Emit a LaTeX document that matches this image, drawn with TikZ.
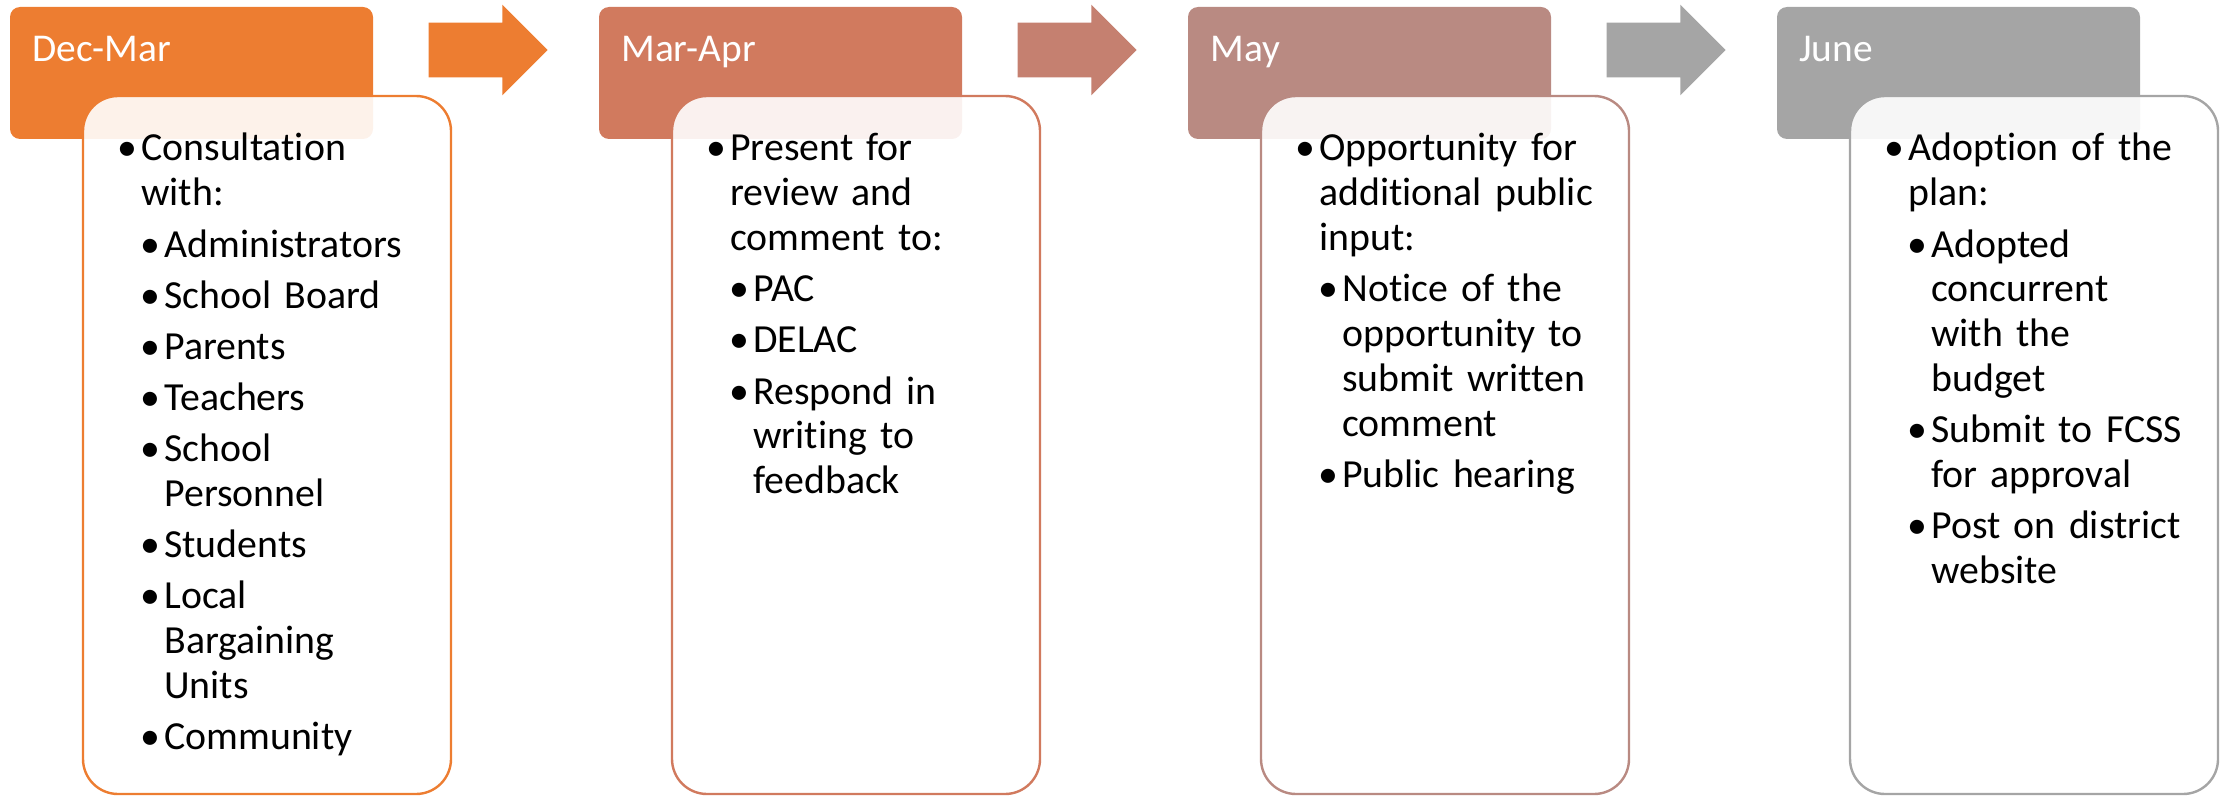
\documentclass[tikz,border=0pt]{standalone}
\usepackage{fontspec}
\setmainfont{Carlito}[Ligatures=NoCommon]
\usetikzlibrary{shapes.arrows}

\definecolor{stepa}{HTML}{ED7D31}
\definecolor{stepb}{HTML}{D17A5E}
\definecolor{stepc}{HTML}{B98A82}
\definecolor{stepd}{HTML}{A5A5A5}
\definecolor{arrb}{HTML}{C58070}

\newcommand{\itemone}[1]{\noindent\hangindent=12pt\hangafter=1\makebox[12pt][l]{\textbullet}#1\par}
\newcommand{\itemtwo}[1]{\noindent\hangindent=23.5pt\hangafter=1\hspace*{11.5pt}\makebox[12pt][l]{\textbullet}#1\par}

\begin{document}
\begin{tikzpicture}[x=0.5pt,y=-0.5pt]
    \tikzstyle{every node} = [inner sep = 0pt];
    \tikzstyle{head} = [rectangle, rounded corners = 5pt, minimum width = 181.5pt, minimum height = 66pt];
    \tikzstyle{body} = [rectangle, rounded corners = 17.5pt, fill = white, fill opacity = 0.9, line width = 1.2pt, minimum width = 184pt, minimum height = 349pt];
    \tikzstyle{blk} = [single arrow, inner xsep = 0pt, inner ysep = 13.5pt, single arrow head extend = 9pt, single arrow tip angle = 90, single arrow head indent = 0pt, minimum width = 45pt, minimum height = 59.5pt];
    \tikzstyle{ttl} = [anchor = base west, text = white, font = \fontsize{19.7}{22.3}\selectfont];
    \tikzstyle{txt} = [anchor = base west, text width = 170pt, font = \fontsize{19.9}{22.4}\selectfont];
    \useasboundingbox (0,0) rectangle (2221,797);
    % period headers
    \node[head, fill = stepa] (hd1) at (191.5,73) {};
    \node[head, fill = stepb] (hd2) at (780.5,73) {};
    \node[head, fill = stepc] (hd3) at (1369.5,73) {};
    \node[head, fill = stepd] (hd4) at (1958.5,73) {};
    \node[ttl] (ttl1) at (32,62) {Dec-Mar};
    \node[ttl] (ttl2) at (621,62) {Mar-Apr};
    \node[ttl] (ttl3) at (1210,62) {May};
    \node[ttl] (ttl4) at (1799,62) {June};
    % block arrows
    \node[blk, fill = stepa] (ar1) at (474.5,50) {};
    \node[blk, fill = arrb] (ar2) at (1063.5,50) {};
    \node[blk, fill = stepd] (ar3) at (1652.5,50) {};
    % detail boxes
    \node[body, draw = stepa] (bd1) at (267,445) {};
    \node[body, draw = stepb] (bd2) at (856,445) {};
    \node[body, draw = stepc] (bd3) at (1445,445) {};
    \node[body, draw = stepd] (bd4) at (2034,445) {};
    \node[txt] (tx1) at (117,161) {\setlength{\parskip}{3.2pt}%
      \itemone{Consultation\newline with:}
      \itemtwo{Administrators}
      \itemtwo{School Board}
      \itemtwo{Parents}
      \itemtwo{Teachers}
      \itemtwo{School\newline Personnel}
      \itemtwo{Students}
      \itemtwo{Local\newline Bargaining\newline Units}
      \itemtwo{Community}};
    \node[txt] (tx2) at (706,161) {\setlength{\parskip}{3.2pt}%
      \itemone{Present for\newline review and\newline comment to:}
      \itemtwo{PAC}
      \itemtwo{DELAC}
      \itemtwo{Respond in\newline writing to\newline feedback}};
    \node[txt] (tx3) at (1295,161) {\setlength{\parskip}{3.2pt}%
      \itemone{Opportunity for\newline additional public\newline input:}
      \itemtwo{Notice of the\newline opportunity to\newline submit written\newline comment}
      \itemtwo{Public hearing}};
    \node[txt] (tx4) at (1884,161) {\setlength{\parskip}{3.2pt}%
      \itemone{Adoption of the\newline plan:}
      \itemtwo{Adopted\newline concurrent\newline with the\newline budget}
      \itemtwo{Submit to FCSS\newline for approval}
      \itemtwo{Post on district\newline website}};
\end{tikzpicture}
\end{document}
